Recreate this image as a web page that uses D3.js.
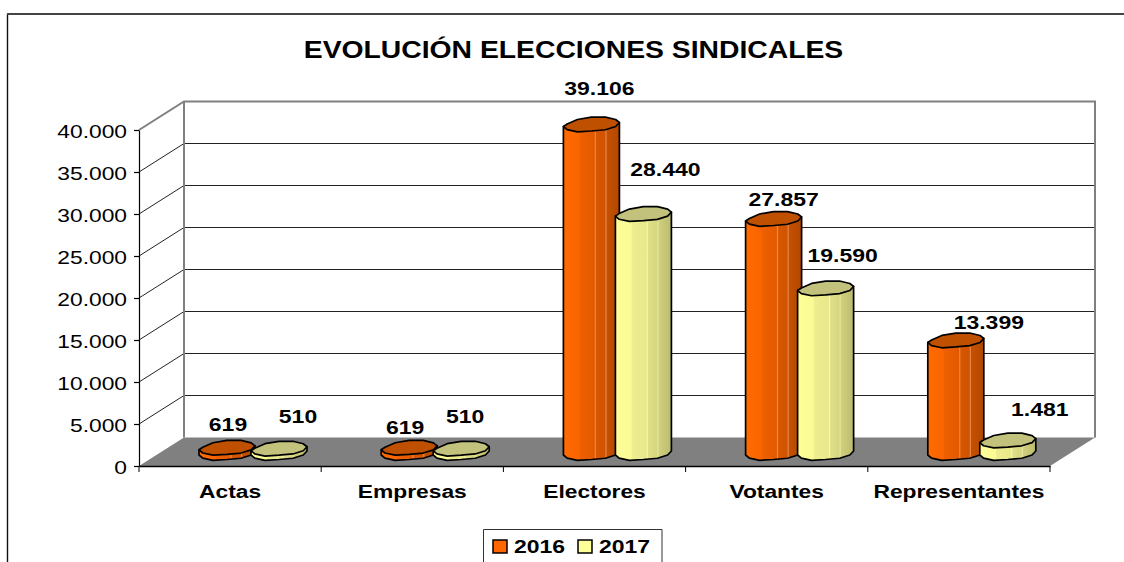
<!DOCTYPE html>
<html>
<head>
<meta charset="utf-8">
<script src="https://cdn.jsdelivr.net/npm/d3@7"></script>
<style>
  html, body { margin: 0; padding: 0; background: #fff; overflow: hidden; }
  text { font-family: "Liberation Sans", Arial, sans-serif; fill: #000; }
</style>
</head>
<body>
<div id="graphic"></div>
<script>
const categories = ["Actas", "Empresas", "Electores", "Votantes", "Representantes"];
const seriesNames = ["2016", "2017"];
const values2016 = [619, 619, 39106, 27857, 13399];
const values2017 = [510, 510, 28440, 19590, 1481];
const yTicks = [0, 5000, 10000, 15000, 20000, 25000, 30000, 35000, 40000];

// hand placed data labels, offset from the top of each cylinder
const labelDx2016 = [1, -4, 8, 10, 33];
const labelDy2016 = [-24, -21, -36, -20, -18];
const labelDx2017 = [19, 4, 22, 17, 32];
const labelDy2017 = [-32, -32, -45, -33, -31];

const width = 1124, height = 562;
const depthX = 45, depthY = -28.5;   // oblique shift from front to back wall
const stretch = 1.21;                // the picture has wide text
const cylW = 56, capRy = 6.5, capSkew = 2, baseLift = 13;
const lumps = [0, 0.5, 0.6, 0, 0.7, 0.2, 0, 1, -0.4, -0.9, -0.8, 0]; // rough edge of the caps

const x0 = d3.scaleBand().domain(categories).range([139, 1050]);
const x1 = d3.scaleBand().domain(seriesNames).range([60, 164]);
const y = d3.scaleLinear().domain([0, 40000]).range([466, 130]);
const fmt = d => d3.format(",")(d).replace(/,/g, ".");

const svg = d3.select("#graphic").append("svg")
  .attr("width", width).attr("height", height)
  .style("display", "block");

const defs = svg.append("defs");
function gradient(id, stops) {
  const g = defs.append("linearGradient").attr("id", id);
  stops.forEach(s => g.append("stop").attr("offset", s[0]).attr("stop-color", s[1]));
}
gradient("body2016", [[0, "#ff6a00"], [0.28, "#fb6500"], [0.3, "#ee5f00"], [0.55, "#e25a00"], [0.57, "#f08a40"],
  [0.59, "#d85600"], [0.74, "#cf5300"], [0.76, "#e88a50"], [0.78, "#c65000"], [1, "#b04800"]]);
gradient("body2017", [[0, "#ffff99"], [0.28, "#fbfb96"], [0.3, "#eeee90"], [0.55, "#e8e88c"], [0.57, "#f6f6b0"],
  [0.59, "#e0e088"], [0.74, "#d6d680"], [0.76, "#e8e8a0"], [0.78, "#cfcf7c"], [1, "#bcbc70"]]);
const capColor = {"2016": "#bf5000", "2017": "#c2c27c"};
const swatchColor = {"2016": "#ff6600", "2017": "#ffff99"};

// outer frame, no right or bottom edge in the picture
svg.append("path").attr("d", "M7.5,562V14")
  .attr("fill", "none").attr("stroke", "#111").attr("stroke-width", 1.4);
svg.append("path").attr("d", "M7,14H1124")
  .attr("fill", "none").attr("stroke", "#444").attr("stroke-width", 2);

// floor and walls
const floorPts = [[x0.range()[0], y(0)], [x0.range()[1], y(0)],
  [x0.range()[1] + depthX, y(0) + depthY], [x0.range()[0] + depthX, y(0) + depthY]];
svg.append("polygon").attr("points", floorPts.join(" ")).attr("fill", "#808080");

svg.append("g").selectAll("path")
  .data(yTicks.filter(d => d > 0 && d < 40000))
  .enter().append("path")
  .attr("d", d => `M${x0.range()[0]},${y(d)}L${x0.range()[0] + depthX},${y(d) + depthY}H${x0.range()[1] + depthX}`)
  .attr("fill", "none").attr("stroke", "#222").attr("stroke-width", 1);

const backL = x0.range()[0] + depthX, backR = x0.range()[1] + depthX;
svg.append("path")
  .attr("d", `M${x0.range()[0]},${y(40000)}L${backL},${y(40000) + depthY}H${backR}V${y(0) + depthY}M${backL},${y(40000) + depthY}V${y(0) + depthY}`)
  .attr("fill", "none").attr("stroke", "#808080").attr("stroke-width", 2);

// axes
const yAxis = svg.append("g")
  .attr("transform", `translate(${x0.range()[0]},0)`)
  .call(d3.axisLeft(y).tickValues(yTicks).tickFormat(fmt).tickSize(5).tickPadding(5).tickSizeOuter(0));
yAxis.selectAll("path, line").attr("stroke", "#000").attr("stroke-width", 1.2);
yAxis.selectAll("text")
  .attr("font-size", 19).attr("dy", "0.37em")
  .style("font-family", "'Liberation Sans', Arial, sans-serif")
  .attr("transform", "scale(1.2,1)");

const xAxis = svg.append("g")
  .attr("transform", `translate(0,${y(0)})`)
  .call(d3.axisBottom(x0).tickSize(0).tickPadding(19));
xAxis.select("path").attr("stroke", "#000").attr("stroke-width", 1.6);
xAxis.selectAll("text")
  .attr("font-size", 19).attr("font-weight", "bold")
  .style("font-family", "'Liberation Sans', Arial, sans-serif")
  .attr("transform", "scale(1.2,1)");
svg.append("g").selectAll("line")
  .data(categories.concat("end"))
  .enter().append("line")
  .attr("x1", (d, i) => x0.range()[0] + i * x0.step())
  .attr("x2", (d, i) => x0.range()[0] + i * x0.step())
  .attr("y1", y(0)).attr("y2", y(0) + 6)
  .attr("stroke", "#000").attr("stroke-width", 1);

// cylinders
function ringPoint(cx, cy, t) {
  const a = ((t % (2 * Math.PI)) + 2 * Math.PI) % (2 * Math.PI);
  const bump = lumps[Math.round(a / (2 * Math.PI) * 12) % 12];
  return [cx + cylW / 2 * Math.cos(t), cy + capRy * Math.sin(t) - capSkew * Math.cos(t) + bump];
}
function ring(cx, cy, from, to, n) {
  return d3.range(n + 1).map(i => ringPoint(cx, cy, from + (to - from) * i / n));
}
const line = d3.line();

const rows = [];
categories.forEach((c, i) => {
  rows.push({c, s: "2016", v: values2016[i], dx: labelDx2016[i], dy: labelDy2016[i]});
  rows.push({c, s: "2017", v: values2017[i], dx: labelDx2017[i], dy: labelDy2017[i]});
});

const cyl = svg.append("g").selectAll("g").data(rows).enter().append("g");
const cxOf = d => x0(d.c) + x1(d.s) + cylW / 2;
const topOf = d => y(d.v) - baseLift;
const bottomOf = () => y(0) - baseLift;

cyl.append("path")
  .attr("d", d => {
    const arc = ring(cxOf(d), bottomOf(), Math.PI, 0, 6);
    const tl = ringPoint(cxOf(d), topOf(d), Math.PI);
    const tr = ringPoint(cxOf(d), topOf(d), 0);
    return line([tl].concat(arc, [tr])) + "Z";
  })
  .attr("fill", d => `url(#body${d.s})`)
  .attr("stroke", "#000").attr("stroke-width", 1.7).attr("stroke-linejoin", "round");

cyl.append("path")
  .attr("d", d => line(ring(cxOf(d), topOf(d), 0, 2 * Math.PI, 12)) + "Z")
  .attr("fill", d => capColor[d.s])
  .attr("stroke", "#000").attr("stroke-width", 1.7).attr("stroke-linejoin", "round");

// data labels
svg.append("g").selectAll("text").data(rows).enter().append("text")
  .attr("transform", d => `translate(${cxOf(d) + d.dx},${topOf(d) + d.dy}) scale(${stretch},1)`)
  .attr("text-anchor", "middle").attr("dominant-baseline", "central")
  .attr("font-size", 19).attr("font-weight", "bold")
  .text(d => fmt(d.v));

// title
svg.append("text")
  .attr("transform", "translate(573.5,57.5) scale(1.18,1)")
  .attr("text-anchor", "middle")
  .attr("font-size", 24).attr("font-weight", "bold")
  .text("EVOLUCIÓN ELECCIONES SINDICALES");

// legend, cut off by the bottom of the picture
const legend = svg.append("g");
legend.append("path").attr("d", "M483.5,562V529.5H662V562")
  .attr("fill", "#fff").attr("stroke", "#333").attr("stroke-width", 1);
const legendStep = d3.scaleBand().domain(seriesNames).range([493, 663]);
const item = legend.selectAll("g").data(seriesNames).enter().append("g")
  .attr("transform", d => `translate(${legendStep(d)},0)`);
item.append("rect").attr("y", 540).attr("width", 14).attr("height", 13)
  .attr("fill", d => swatchColor[d]).attr("stroke", "#000").attr("stroke-width", 1.5);
item.append("text")
  .attr("transform", `translate(21,553) scale(${stretch},1)`)
  .attr("font-size", 19).attr("font-weight", "bold")
  .text(d => d);
</script>
</body>
</html>
